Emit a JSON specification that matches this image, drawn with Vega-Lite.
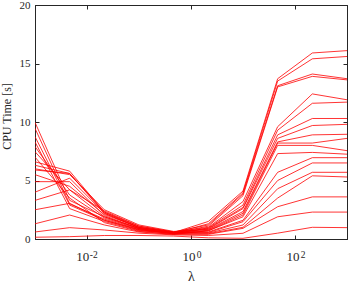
{
  "$schema": "https://vega.github.io/schema/vega-lite/v6.json",
  "width": 312,
  "height": 234,
  "autosize": {"type": "none"},
  "padding": {"left": 35, "top": 5, "right": 2, "bottom": 43},
  "background": "white",
  "config": {
    "view": {"stroke": "#262626", "strokeWidth": 1},
    "font": "Liberation Serif",
    "axis": {
      "labelFont": "Liberation Serif",
      "titleFont": "Liberation Serif",
      "labelFontSize": 11,
      "titleFontSize": 12,
      "labelColor": "#262626",
      "titleColor": "#262626",
      "domainColor": "#262626",
      "tickColor": "#262626",
      "grid": false,
      "titleFontWeight": "normal"
    }
  },
  "datasets": {
    "runs": [
      {"series": "A", "lambda": 0.001, "t": 6.6}, {"series": "A", "lambda": 0.004642, "t": 5.8}, {"series": "A", "lambda": 0.02154, "t": 2.3}, {"series": "A", "lambda": 0.1, "t": 1.0}, {"series": "A", "lambda": 0.4642, "t": 0.55}, {"series": "A", "lambda": 2.154, "t": 1.5}, {"series": "A", "lambda": 10, "t": 4.1}, {"series": "A", "lambda": 46.42, "t": 13.7}, {"series": "A", "lambda": 215.4, "t": 15.9}, {"series": "A", "lambda": 1000, "t": 16.1},
      {"series": "B", "lambda": 0.001, "t": 9.97}, {"series": "B", "lambda": 0.004642, "t": 3.3}, {"series": "B", "lambda": 0.02154, "t": 1.9}, {"series": "B", "lambda": 0.1, "t": 0.9}, {"series": "B", "lambda": 0.4642, "t": 0.5}, {"series": "B", "lambda": 2.154, "t": 1.3}, {"series": "B", "lambda": 10, "t": 3.95}, {"series": "B", "lambda": 46.42, "t": 13.5}, {"series": "B", "lambda": 215.4, "t": 15.4}, {"series": "B", "lambda": 1000, "t": 15.6},
      {"series": "C", "lambda": 0.001, "t": 7.46}, {"series": "C", "lambda": 0.004642, "t": 4.2}, {"series": "C", "lambda": 0.02154, "t": 2.4}, {"series": "C", "lambda": 0.1, "t": 1.1}, {"series": "C", "lambda": 0.4642, "t": 0.6}, {"series": "C", "lambda": 2.154, "t": 1.2}, {"series": "C", "lambda": 10, "t": 3.85}, {"series": "C", "lambda": 46.42, "t": 13.1}, {"series": "C", "lambda": 215.4, "t": 14.1}, {"series": "C", "lambda": 1000, "t": 13.7},
      {"series": "D", "lambda": 0.001, "t": 9.46}, {"series": "D", "lambda": 0.004642, "t": 3.0}, {"series": "D", "lambda": 0.02154, "t": 1.7}, {"series": "D", "lambda": 0.1, "t": 0.8}, {"series": "D", "lambda": 0.4642, "t": 0.5}, {"series": "D", "lambda": 2.154, "t": 1.1}, {"series": "D", "lambda": 10, "t": 3.7}, {"series": "D", "lambda": 46.42, "t": 13.0}, {"series": "D", "lambda": 215.4, "t": 13.9}, {"series": "D", "lambda": 1000, "t": 13.6},
      {"series": "E", "lambda": 0.001, "t": 6.3}, {"series": "E", "lambda": 0.004642, "t": 5.6}, {"series": "E", "lambda": 0.02154, "t": 2.2}, {"series": "E", "lambda": 0.1, "t": 0.95}, {"series": "E", "lambda": 0.4642, "t": 0.6}, {"series": "E", "lambda": 2.154, "t": 1.0}, {"series": "E", "lambda": 10, "t": 3.2}, {"series": "E", "lambda": 46.42, "t": 9.6}, {"series": "E", "lambda": 215.4, "t": 12.4}, {"series": "E", "lambda": 1000, "t": 11.9},
      {"series": "F", "lambda": 0.001, "t": 8.75}, {"series": "F", "lambda": 0.004642, "t": 2.9}, {"series": "F", "lambda": 0.02154, "t": 1.6}, {"series": "F", "lambda": 0.1, "t": 0.75}, {"series": "F", "lambda": 0.4642, "t": 0.45}, {"series": "F", "lambda": 2.154, "t": 0.95}, {"series": "F", "lambda": 10, "t": 2.9}, {"series": "F", "lambda": 46.42, "t": 9.3}, {"series": "F", "lambda": 215.4, "t": 11.6}, {"series": "F", "lambda": 1000, "t": 11.7},
      {"series": "G", "lambda": 0.001, "t": 5.5}, {"series": "G", "lambda": 0.004642, "t": 4.5}, {"series": "G", "lambda": 0.02154, "t": 2.1}, {"series": "G", "lambda": 0.1, "t": 1.0}, {"series": "G", "lambda": 0.4642, "t": 0.55}, {"series": "G", "lambda": 2.154, "t": 0.9}, {"series": "G", "lambda": 10, "t": 2.7}, {"series": "G", "lambda": 46.42, "t": 8.9}, {"series": "G", "lambda": 215.4, "t": 10.3}, {"series": "G", "lambda": 1000, "t": 10.3},
      {"series": "H", "lambda": 0.001, "t": 8.3}, {"series": "H", "lambda": 0.004642, "t": 2.6}, {"series": "H", "lambda": 0.02154, "t": 1.5}, {"series": "H", "lambda": 0.1, "t": 0.7}, {"series": "H", "lambda": 0.4642, "t": 0.5}, {"series": "H", "lambda": 2.154, "t": 0.85}, {"series": "H", "lambda": 10, "t": 2.6}, {"series": "H", "lambda": 46.42, "t": 8.6}, {"series": "H", "lambda": 215.4, "t": 9.7}, {"series": "H", "lambda": 1000, "t": 9.8},
      {"series": "I", "lambda": 0.001, "t": 6.0}, {"series": "I", "lambda": 0.004642, "t": 5.5}, {"series": "I", "lambda": 0.02154, "t": 2.5}, {"series": "I", "lambda": 0.1, "t": 1.2}, {"series": "I", "lambda": 0.4642, "t": 0.65}, {"series": "I", "lambda": 2.154, "t": 0.8}, {"series": "I", "lambda": 10, "t": 2.35}, {"series": "I", "lambda": 46.42, "t": 8.3}, {"series": "I", "lambda": 215.4, "t": 8.9}, {"series": "I", "lambda": 1000, "t": 8.95},
      {"series": "J", "lambda": 0.001, "t": 7.9}, {"series": "J", "lambda": 0.004642, "t": 3.76}, {"series": "J", "lambda": 0.02154, "t": 1.8}, {"series": "J", "lambda": 0.1, "t": 0.85}, {"series": "J", "lambda": 0.4642, "t": 0.5}, {"series": "J", "lambda": 2.154, "t": 0.75}, {"series": "J", "lambda": 10, "t": 2.2}, {"series": "J", "lambda": 46.42, "t": 8.2}, {"series": "J", "lambda": 215.4, "t": 8.2}, {"series": "J", "lambda": 1000, "t": 8.6},
      {"series": "K", "lambda": 0.001, "t": 4.9}, {"series": "K", "lambda": 0.004642, "t": 4.9}, {"series": "K", "lambda": 0.02154, "t": 2.0}, {"series": "K", "lambda": 0.1, "t": 0.9}, {"series": "K", "lambda": 0.4642, "t": 0.45}, {"series": "K", "lambda": 2.154, "t": 0.7}, {"series": "K", "lambda": 10, "t": 2.05}, {"series": "K", "lambda": 46.42, "t": 8.0}, {"series": "K", "lambda": 215.4, "t": 8.0}, {"series": "K", "lambda": 1000, "t": 7.55},
      {"series": "L", "lambda": 0.001, "t": 7.0}, {"series": "L", "lambda": 0.004642, "t": 3.5}, {"series": "L", "lambda": 0.02154, "t": 1.4}, {"series": "L", "lambda": 0.1, "t": 0.65}, {"series": "L", "lambda": 0.4642, "t": 0.4}, {"series": "L", "lambda": 2.154, "t": 0.7}, {"series": "L", "lambda": 10, "t": 1.9}, {"series": "L", "lambda": 46.42, "t": 7.3}, {"series": "L", "lambda": 215.4, "t": 7.4}, {"series": "L", "lambda": 1000, "t": 7.25},
      {"series": "M", "lambda": 0.001, "t": 5.9}, {"series": "M", "lambda": 0.004642, "t": 5.6}, {"series": "M", "lambda": 0.02154, "t": 2.3}, {"series": "M", "lambda": 0.1, "t": 1.1}, {"series": "M", "lambda": 0.4642, "t": 0.6}, {"series": "M", "lambda": 2.154, "t": 0.6}, {"series": "M", "lambda": 10, "t": 1.6}, {"series": "M", "lambda": 46.42, "t": 5.7}, {"series": "M", "lambda": 215.4, "t": 6.95}, {"series": "M", "lambda": 1000, "t": 6.95},
      {"series": "N", "lambda": 0.001, "t": 4.0}, {"series": "N", "lambda": 0.004642, "t": 5.2}, {"series": "N", "lambda": 0.02154, "t": 2.2}, {"series": "N", "lambda": 0.1, "t": 1.0}, {"series": "N", "lambda": 0.4642, "t": 0.55}, {"series": "N", "lambda": 2.154, "t": 0.55}, {"series": "N", "lambda": 10, "t": 1.48}, {"series": "N", "lambda": 46.42, "t": 5.0}, {"series": "N", "lambda": 215.4, "t": 6.5}, {"series": "N", "lambda": 1000, "t": 6.5},
      {"series": "O", "lambda": 0.001, "t": 3.3}, {"series": "O", "lambda": 0.004642, "t": 4.2}, {"series": "O", "lambda": 0.02154, "t": 1.9}, {"series": "O", "lambda": 0.1, "t": 0.9}, {"series": "O", "lambda": 0.4642, "t": 0.5}, {"series": "O", "lambda": 2.154, "t": 0.5}, {"series": "O", "lambda": 10, "t": 1.2}, {"series": "O", "lambda": 46.42, "t": 4.3}, {"series": "O", "lambda": 215.4, "t": 5.7}, {"series": "O", "lambda": 1000, "t": 5.7},
      {"series": "P", "lambda": 0.001, "t": 2.5}, {"series": "P", "lambda": 0.004642, "t": 3.05}, {"series": "P", "lambda": 0.02154, "t": 1.6}, {"series": "P", "lambda": 0.1, "t": 0.8}, {"series": "P", "lambda": 0.4642, "t": 0.45}, {"series": "P", "lambda": 2.154, "t": 0.45}, {"series": "P", "lambda": 10, "t": 1.0}, {"series": "P", "lambda": 46.42, "t": 3.5}, {"series": "P", "lambda": 215.4, "t": 5.4}, {"series": "P", "lambda": 1000, "t": 5.3},
      {"series": "Q", "lambda": 0.001, "t": 1.3}, {"series": "Q", "lambda": 0.004642, "t": 2.05}, {"series": "Q", "lambda": 0.02154, "t": 1.2}, {"series": "Q", "lambda": 0.1, "t": 0.6}, {"series": "Q", "lambda": 0.4642, "t": 0.4}, {"series": "Q", "lambda": 2.154, "t": 0.4}, {"series": "Q", "lambda": 10, "t": 0.91}, {"series": "Q", "lambda": 46.42, "t": 2.76}, {"series": "Q", "lambda": 215.4, "t": 3.6}, {"series": "Q", "lambda": 1000, "t": 3.6},
      {"series": "R", "lambda": 0.001, "t": 0.6}, {"series": "R", "lambda": 0.004642, "t": 0.97}, {"series": "R", "lambda": 0.02154, "t": 0.77}, {"series": "R", "lambda": 0.1, "t": 0.5}, {"series": "R", "lambda": 0.4642, "t": 0.35}, {"series": "R", "lambda": 2.154, "t": 0.3}, {"series": "R", "lambda": 10, "t": 0.49}, {"series": "R", "lambda": 46.42, "t": 1.9}, {"series": "R", "lambda": 215.4, "t": 2.3}, {"series": "R", "lambda": 1000, "t": 2.3},
      {"series": "S", "lambda": 0.001, "t": 0.15}, {"series": "S", "lambda": 0.004642, "t": 0.2}, {"series": "S", "lambda": 0.02154, "t": 0.3}, {"series": "S", "lambda": 0.1, "t": 0.3}, {"series": "S", "lambda": 0.4642, "t": 0.25}, {"series": "S", "lambda": 2.154, "t": 0.1}, {"series": "S", "lambda": 10, "t": 0.06}, {"series": "S", "lambda": 46.42, "t": 0.5}, {"series": "S", "lambda": 215.4, "t": 1.0}, {"series": "S", "lambda": 1000, "t": 0.97}
    ]
  },
  "data": {"name": "runs"},
  "layer": [
    {
      "mark": {"type": "line", "color": "#ff0000", "strokeWidth": 0.8, "clip": true},
      "encoding": {
        "x": {
          "field": "lambda", "type": "quantitative",
          "scale": {"type": "log", "domain": [0.001, 1000], "nice": false},
          "axis": {
            "orient": "bottom",
            "values": [0.01, 1, 100],
            "labelExpr": "'10'",
            "labelFontSize": 13,
            "labelOffset": {"condition": {"test": "datum.value < 0.1", "value": -4.7}, "value": -2.4},
            "tickSize": -4,
            "labelPadding": 15,
            "title": "λ",
            "titleFontSize": 14,
            "titlePadding": 6
          }
        },
        "y": {
          "field": "t", "type": "quantitative",
          "scale": {"domain": [0, 20], "nice": false},
          "axis": {
            "orient": "left",
            "values": [0, 5, 10, 15, 20],
            "tickSize": -4,
            "labelPadding": 9,
            "title": "CPU Time [s]",
            "titleY": 111,
            "titlePadding": 6
          }
        },
        "detail": {"field": "series", "type": "nominal"}
      }
    },
    {
      "mark": {"type": "line", "opacity": 0},
      "encoding": {
        "x": {
          "field": "lambda", "type": "quantitative",
          "axis": {"orient": "top", "values": [0.01, 1, 100], "labels": false, "tickSize": -4, "title": null}
        },
        "y": {
          "field": "t", "type": "quantitative",
          "axis": {"orient": "right", "values": [0, 5, 10, 15, 20], "labels": false, "tickSize": -4, "title": null}
        },
        "detail": {"field": "series", "type": "nominal"}
      }
    },
    {
      "mark": {"type": "line", "opacity": 0},
      "encoding": {
        "x": {
          "field": "lambda", "type": "quantitative",
          "axis": {
            "orient": "bottom",
            "values": [0.01, 1, 100],
            "labelExpr": "datum.value < 0.1 ? '-2' : (datum.value < 10 ? '0' : '2')",
            "labelFontSize": 9.5,
            "labelOffset": {"condition": {"test": "datum.value < 0.1", "value": 6.3}, "value": 7.5},
            "ticks": false,
            "domain": false,
            "labelPadding": 10,
            "title": null
          }
        },
        "y": {"field": "t", "type": "quantitative", "axis": null},
        "detail": {"field": "series", "type": "nominal"}
      }
    }
  ],
  "resolve": {"axis": {"x": "independent", "y": "independent"}}
}
